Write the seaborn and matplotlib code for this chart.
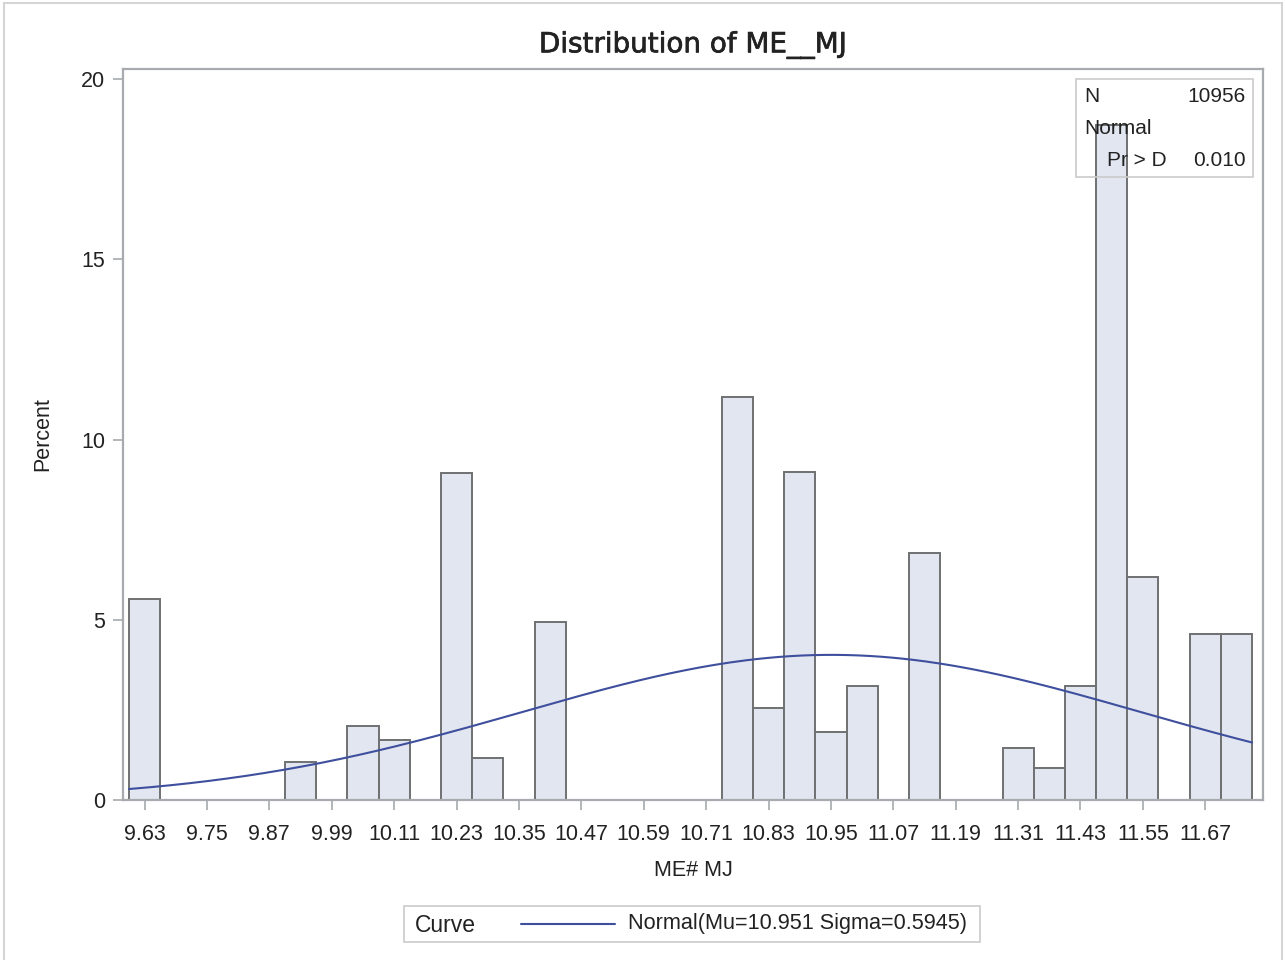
import numpy as np
import pandas as pd
import seaborn as sns
import matplotlib
matplotlib.use("Agg")
import matplotlib.pyplot as plt
import matplotlib.patheffects as pe
from matplotlib.patches import Rectangle
from matplotlib.lines import Line2D

# Histogram of ME__MJ: bin midpoints and percent of observations per bin
bin_mids = [9.63, 9.69, 9.75, 9.81, 9.87, 9.93, 9.99, 10.05, 10.11, 10.17,
            10.23, 10.29, 10.35, 10.41, 10.47, 10.53, 10.59, 10.65, 10.71, 10.77,
            10.83, 10.89, 10.95, 11.01, 11.07, 11.13, 11.19, 11.25, 11.31, 11.37,
            11.43, 11.49, 11.55, 11.61, 11.67, 11.73]
percents = [5.59, 0.0, 0.0, 0.0, 0.0, 1.05, 0.0, 2.05, 1.66, 0.0,
            9.07, 1.16, 0.0, 4.94, 0.0, 0.0, 0.0, 0.0, 0.0, 11.17,
            2.55, 9.10, 1.89, 3.16, 0.0, 6.85, 0.0, 0.0, 1.43, 0.89,
            3.16, 18.72, 6.19, 0.0, 4.60, 4.60]
bin_width = 0.06

x_ticks = [9.63, 9.75, 9.87, 9.99, 10.11, 10.23, 10.35, 10.47, 10.59, 10.71,
           10.83, 10.95, 11.07, 11.19, 11.31, 11.43, 11.55, 11.67]
y_ticks = [0, 5, 10, 15, 20]

n_obs = 10956
ks_p = "0.010"
mu = 10.951
sigma = 0.5945

W, H = 1285, 960
sns.set_theme(style="white")
plt.rcParams["font.family"] = ["Liberation Sans", "DejaVu Sans"]

TXT = "#222222"
FRAME = "#A7AAAE"
FILL = "#E2E6F0"
EDGE = "#6F7072"
CURVE = "#3E4F9E"

fig = plt.figure(figsize=(W / 100, H / 100), dpi=100)


def fx(px):
    return px / W


def fy(py):
    return 1 - py / H


ax = fig.add_axes([fx(123), fy(800), fx(1263) - fx(123), fy(69) - fy(800)])

df = pd.DataFrame({"ME__MJ": bin_mids, "Percent": percents})
lo = bin_mids[0] - bin_width / 2
hi = bin_mids[-1] + bin_width / 2
sns.histplot(data=df, x="ME__MJ", weights="Percent", bins=len(bin_mids),
             binrange=(lo, hi), stat="count",
             color=FILL, alpha=1.0, edgecolor=EDGE, linewidth=1.4, ax=ax, zorder=2)

# Fitted normal density scaled to percent per bin
xs = np.linspace(lo, hi, 300)
ys = 100 * bin_width * np.exp(-0.5 * ((xs - mu) / sigma) ** 2) / (sigma * np.sqrt(2 * np.pi))
sns.lineplot(x=xs, y=ys, color=CURVE, linewidth=1.5, ax=ax, zorder=3)

ax.set_xlim(9.5885, 11.781)
ax.set_ylim(0, 20.28)
ax.set_xticks(x_ticks)
ax.set_xticklabels([f"{v:.2f}" for v in x_ticks])
ax.set_yticks(y_ticks)
ax.set_yticklabels([str(v) for v in y_ticks])
ax.tick_params(axis="both", which="major", direction="out", length=7, width=1.2,
               color=FRAME, labelcolor=TXT, labelsize=15.5, bottom=True, left=True)
ax.tick_params(axis="x", pad=10)
ax.tick_params(axis="y", pad=6)
for s in ax.spines.values():
    s.set_color(FRAME)
    s.set_linewidth(1.6)

ax.set_xlabel("ME# MJ", fontsize=15.5, color=TXT, labelpad=11)
ax.set_ylabel("Percent", fontsize=15.5, color=TXT, labelpad=20)
ax.set_title("Distribution of ME__MJ", fontsize=20, color=TXT, pad=12,
             family="DejaVu Sans",
             path_effects=[pe.withStroke(linewidth=0.5, foreground=TXT)])

# Statistics inset
inset = Rectangle((fx(1076), fy(177)), fx(1253) - fx(1076), fy(79) - fy(177),
                  transform=fig.transFigure, facecolor="none",
                  edgecolor="#CBCBCB", linewidth=1.2, zorder=1)
fig.patches.append(inset)
stat_kw = dict(fontsize=15, color=TXT, va="center", zorder=5)
fig.text(fx(1084), fy(97), "N", ha="left", **stat_kw)
fig.text(fx(1246), fy(97), f"{n_obs}", ha="right", **stat_kw)
fig.text(fx(1084), fy(129), "Normal", ha="left", **stat_kw)
fig.text(fx(1107), fy(160), "Pr > D", ha="left", **stat_kw)
fig.text(fx(1246), fy(160), ks_p, ha="right", **stat_kw)

# Bottom legend
leg_box = Rectangle((fx(404), fy(942)), fx(980) - fx(404), fy(906) - fy(942),
                    transform=fig.transFigure, facecolor="none",
                    edgecolor="#CBCBCB", linewidth=1.2)
fig.patches.append(leg_box)
fig.text(fx(415), fy(925), "Curve", fontsize=16.5, color=TXT, va="center", ha="left")
fig.lines.append(Line2D([fx(521), fx(615)], [fy(924), fy(924)], transform=fig.transFigure,
                        color=CURVE, linewidth=1.5))
fig.text(fx(628), fy(924), f"Normal(Mu={mu} Sigma={sigma})", fontsize=15.6,
         color=TXT, va="center", ha="left")

# Outer frame
outer = Rectangle((fx(4), fy(962)), fx(1282) - fx(4), fy(3) - fy(962),
                  transform=fig.transFigure, facecolor="none",
                  edgecolor="#D5D5D5", linewidth=1.5)
fig.patches.append(outer)

fig.savefig("out.png", dpi=100)
